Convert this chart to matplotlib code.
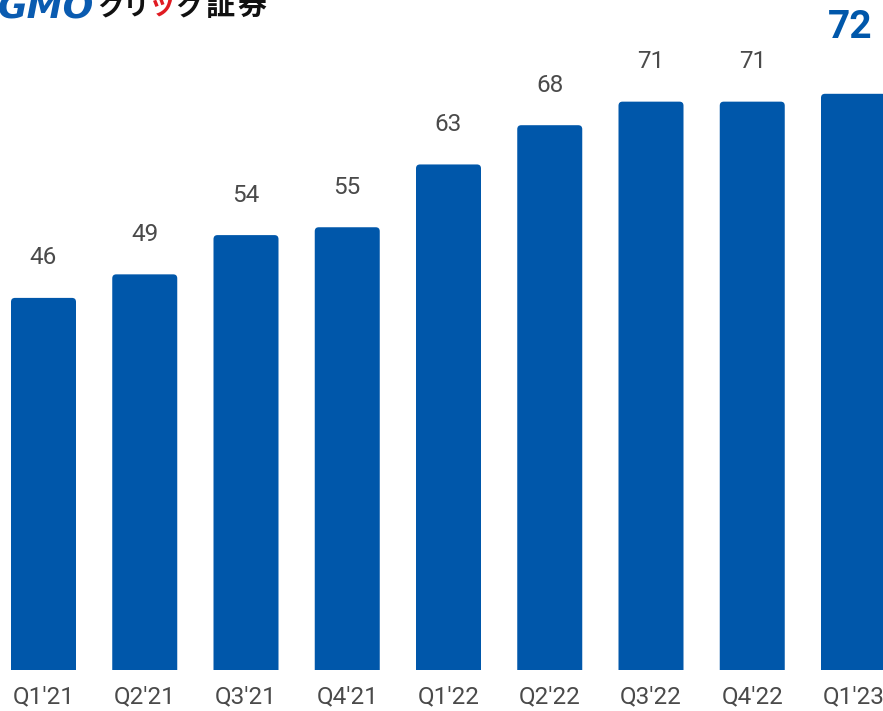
import matplotlib
matplotlib.use('Agg')
import matplotlib.pyplot as plt
from matplotlib.patches import FancyBboxPatch

quarters = ["Q1'21", "Q2'21", "Q3'21", "Q4'21", "Q1'22", "Q2'22", "Q3'22", "Q4'22", "Q1'23"]
values = [46, 49, 54, 55, 63, 68, 71, 71, 72]

BAR_COLOR = '#0057aa'
TEXT_COLOR = '#4a4a4a'
W, H = 883, 711

fig = plt.figure(figsize=(W / 100, H / 100), dpi=100)
ax = fig.add_axes([0, 0, 1, 1])
px_x = 101.25   # pixels per category
px_y = 7.85     # pixels per value unit
zero_px = 52    # pixel height of value 0 above the bottom edge
ax.set_xlim(-43.5 / px_x, (W - 43.5) / px_x)
ax.set_ylim(-zero_px / px_y, (H - zero_px) / px_y)
ax.axis('off')

# bars stand on a floor a bit below zero
floor = -11 / px_y
xs = list(range(len(values)))
bar_w = 65 / px_x
bars = ax.bar(xs, [v - floor for v in values], bottom=floor, width=bar_w, color=BAR_COLOR)

# round the top corners only: draw a rounded box that reaches below the
# floor and clip it at the floor
r = 4 / px_x
extra = 2.0
for b in bars:
    b.set_visible(False)
    x0, y0, h = b.get_x(), b.get_y(), b.get_height()
    patch = FancyBboxPatch((x0, y0 - extra), bar_w, h + extra,
                           boxstyle=f'round,pad=0,rounding_size={r}',
                           mutation_aspect=px_x / px_y,
                           fc=BAR_COLOR, ec='none')
    ax.add_patch(patch)
    clip = plt.Rectangle((x0 - 1, y0), bar_w + 2, h + 5, transform=ax.transData)
    patch.set_clip_path(clip)

# value labels, last one highlighted
for x, v in zip(xs[:-1], values[:-1]):
    ax.text(x, v + 5.1, str(v), ha='center', va='center',
            fontsize=17.5, color=TEXT_COLOR, family='Roboto')
ax.text(xs[-1] - 0.03, values[-1] + 8.4, str(values[-1]), ha='center', va='center',
        fontsize=28, fontweight='bold', color=BAR_COLOR, family='Roboto')

# category labels under bars
for x, q in zip(xs, quarters):
    ax.text(x, -4.84, q, ha='center', va='center',
            fontsize=17.5, color=TEXT_COLOR, family='Roboto')

# logo (top left, cut by the top edge like the original)
fig.text(-2 / W, 1 - 17 / H, 'GMO', ha='left', va='baseline', fontsize=26,
         fontweight='bold', style='italic', color='#0a5bb0', family='DejaVu Sans')
logo_chars = [('ク', '#111111', 97, 19), ('リ', '#111111', 123, 19),
              ('ッ', '#e01b22', 149, 19), ('ク', '#111111', 175, 19),
              ('証', '#111111', 205, 21), ('券', '#111111', 237, 21)]
for s, c, px, fs in logo_chars:
    fig.text(px / W, 1 - 15 / H, s, ha='left', va='baseline', fontsize=fs,
             fontweight='bold', color=c, family='Noto Sans CJK JP')

fig.savefig('out.png', dpi=100)
